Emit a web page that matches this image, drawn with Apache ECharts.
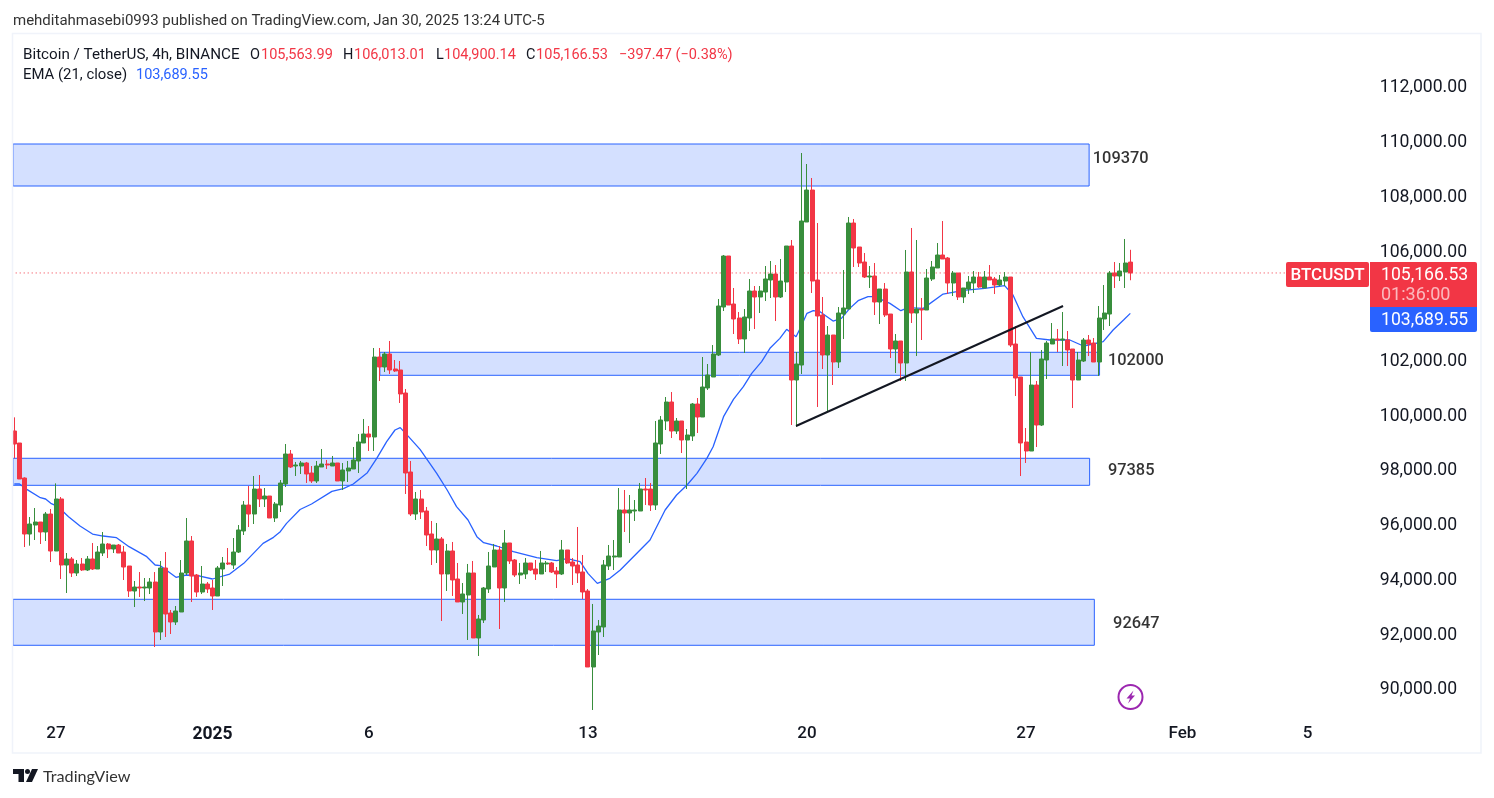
<!DOCTYPE html>
<html><head><meta charset="utf-8">
<style>html,body{margin:0;padding:0;background:#fff}#c{width:1494px;height:798px}</style>
<script src="https://cdn.jsdelivr.net/npm/echarts@6/dist/echarts.min.js"></script>
</head><body><div id="c"></div>
<script>
const tickIndex = [8,38,68,110,152,194,224,248];
const tickLabels = ['27','2025','6','13','20','27','Feb','5'];
const slotCount = 261;
const priceTicksHidden = [88000,114000];
const opens = [99390,98951,97672,95625,95954,96064,95699,96356,95004,96905,
94492,94712,94200,94529,94310,94712,94346,94931,95260,95077,
95223,94967,94456,93542,93688,93652,93652,93871,92044,94383,
92738,92409,92775,94200,95370,94127,93505,93798,93652,93359,
94346,94566,94492,94967,95735,96685,96356,97270,96905,97014,
96210,96685,97453,98550,98111,98111,98221,97855,97563,98075,
98184,98111,98221,97563,97929,98002,98294,98952,99281,99171,
102095,101730,102205,101657,101620,100779,97892,96357,96905,96466,
95626,95041,95443,94164,95005,93981,93141,93396,94201,91825,
92483,93616,94420,95041,93652,95297,94676,94128,94164,94566,
94347,94164,94530,94566,94274,94164,95041,94603,94493,94237,
93543,90765,92044,92227,94456,94785,94785,96503,96393,96466,
96466,97270,97270,96685,98915,99756,100450,99390,99756,99061,
99207,100377,99902,100962,101364,102168,103922,105786,104032,103520,
102753,103520,104507,104288,104470,104909,105128,104288,104836,106152,
101254,101802,107029,108198,104909,103630,102168,102899,101912,103666,
103849,106992,106115,105567,105019,105055,104105,104580,103666,102387,
102680,101875,105202,103703,103849,103813,104946,105348,105823,105713,
104799,105165,104288,104580,104799,105019,104617,105019,104946,104726,
104872,105019,102570,101364,98988,98659,101071,99609,101985,102570,
102753,102716,102716,102387,101254,101948,102716,102606,101912,103484,
103666,105165,105055,105201,105564];
const closes = [98915,97636,95625,95991,96064,95699,96356,95004,96905,94492,
94712,94200,94529,94310,94712,94346,94967,95260,95077,95223,
94931,94419,93542,93688,93652,93688,93871,92044,94383,92701,
92409,92811,94200,95370,94090,93505,93798,93615,93359,94383,
94566,94529,94967,95772,96685,96356,97270,96905,97014,96210,
96722,97489,98549,98075,98148,98221,97819,97563,98111,98184,
98148,98221,97563,97965,98038,98331,98989,99281,99171,102095,
101730,102205,101620,101584,100743,97855,96357,96905,96430,95589,
95041,95443,94164,95005,93945,93141,93433,94201,91825,92519,
93652,94456,95041,93652,95297,94639,94128,94201,94566,94310,
94164,94566,94566,94237,94164,95041,94566,94456,94201,93506,
90765,92081,92263,94493,94822,94822,96503,96393,96503,96503,
97270,97234,96685,98952,99792,100450,99390,99756,99061,99244,
100377,99902,100998,101437,102204,103959,105786,103995,103484,102753,
103557,104507,104288,104507,104946,105128,104288,104872,106152,101254,
101839,107065,108198,104872,103593,102168,102899,101912,103703,103886,
106992,106079,105530,105019,105055,104105,104580,103630,102387,102680,
101875,105202,103703,103849,103813,104982,105384,105823,105677,104799,
105165,104288,104617,104836,105019,104653,105019,104909,104726,104909,
105019,102533,101327,98952,98659,101071,99609,102022,102606,102753,
102716,102753,102351,101254,101985,102716,102570,101912,103520,103703,
105165,105055,105238,105530,105167];
const lows = [98391,97636,95150,95199,95406,95260,95370,94602,95004,93981,
93469,94054,94090,94273,94273,94310,94346,94821,94748,94931,
94931,93944,93323,92957,93323,93176,93432,91495,91751,91861,
91971,92299,92775,94127,93140,93323,93432,93469,92848,93359,
93725,94492,94346,94931,95589,95881,95991,96612,96612,96210,
96064,96430,97343,98038,97746,97819,97490,97490,97490,98075,
98002,98111,97563,97234,97526,98002,97855,98952,98660,98660,
101218,101547,101474,101547,100414,97088,96284,96138,96174,95187,
94493,94566,92446,93543,93360,93141,92702,91752,91825,91167,
92373,93470,94420,92154,93141,94530,94054,93799,93981,94273,
93945,94164,94237,94201,93652,94128,94530,93762,93835,93250,
90765,89193,91203,91861,94310,94310,94785,95699,95297,96101,
96466,96685,96466,96503,98550,99427,99134,99280,98586,97270,
99025,99317,99902,100889,101364,102131,103776,103995,102935,102570,
102241,103045,103118,103703,104141,104251,103410,104251,104470,99610,
99537,101474,107029,104434,100268,101656,100121,101072,101693,102753,
103849,105384,105384,104982,104617,103630,103301,103557,102058,101510,
101218,101218,103338,102131,102716,103813,104873,105348,105677,104397,
104324,104178,104068,104397,104434,104617,104617,104909,104397,104690,
104690,102460,100669,97745,98221,98659,98805,99573,101291,102570,
102278,101766,101766,100231,101254,101912,102131,101912,101400,103082,
103228,104617,104872,104617,104900];
const highs = [99889,98951,97697,96247,96576,96064,96430,96539,97477,96978,
94931,94785,94675,94748,94821,95296,95187,95699,95296,95223,
95260,95187,94456,93908,94236,94017,94017,94236,94639,94967,
92848,92994,94675,96210,95552,94163,94456,93871,93944,94456,
94785,95114,95479,95954,96831,97380,97745,97782,97307,97014,
96795,97599,98915,98696,98258,98294,98258,98111,98294,98733,
98331,98477,98221,98221,98294,98806,99281,99829,99573,102424,
102424,102278,102680,101985,101949,100926,98294,97161,97234,96613,
96101,96028,95516,95261,95334,94566,93835,94530,94639,92666,
93689,94968,95261,95187,95772,95297,94712,94566,94749,94566,
94676,95005,94639,94603,94420,95407,95041,94749,95882,94858,
93616,93068,92483,94676,95224,95406,97307,97234,97051,96868,
97490,97672,97490,99756,99938,100633,100815,99865,99756,99463,
100414,100596,102095,101839,102533,104215,105823,105786,104617,103739,
103849,104946,104690,104690,105421,105603,105457,105677,106152,106371,
102278,109551,109149,108637,106992,104288,103228,102899,103922,105275,
107212,107139,106115,105896,105421,105530,104580,104799,103666,102935,
102680,106006,106810,106371,104251,105311,105604,106261,107065,105750,
105238,105165,104617,105055,105238,105202,105238,105457,105019,105092,
105201,105019,103228,101364,99500,102278,101218,102351,102680,103337,
103118,103740,103045,102387,102278,102789,102899,102789,103959,104726,
105238,105567,105530,106408,106013];
const emaAt = [0,1,2.4,5,6,7,8.4,10.4,12.6,15,17,19.6,22,25.4,27,28,31,33,35.6,38,41.3,44,47.7,49.7,51,52.2,54.8,57,60.9,63.1,65,67.7,69.5,71.4,73,74,75.6,77.8,81,83,84.8,87,88.7,90,92.5,95.7,100.2,104,106,108.5,110,111.8,114.2,116.2,121.9,124.8,127,129,130.9,132.8,134,136,137.9,139.8,141.4,143.3,144.9,146.8,148.1,149.9,150.7,152,153.2,154.5,157,158.6,160.2,161.8,163.7,165,167.9,170,171.4,174.3,178.1,182,186.1,189.9,191.5,193.4,196,198.6,202.4,205,206.9,208.8,210.7,212.7,214];
const emaValues = [97453,97453,97258,96953,96905,96746,96624,96259,95918,95625,95552,95491,95162,94797,94492,94468,94042,94127,94090,93981,94163,94553,95284,95504,95711,96015,96520,96722,97185,97283,97453,97868,98391,99001,99427,99512,99183,98720,97843,97234,96625,96138,95529,95309,95187,94980,94761,94651,94724,94615,94188,93823,94006,94310,95406,96503,97051,97416,97843,98391,98817,99914,100547,101010,101498,101924,102412,102777,103106,102838,103143,103691,103788,103752,103410,103508,103873,104154,104300,104300,104056,103788,103898,103873,104397,104530,104604,104702,104361,103569,102777,102716,102716,102497,102570,102655,103082,103447,103689];
const zoneFrom = [-0.25,70.1,-0.25,-0.25];
const zoneTo = [206.1,208.1,206.2,207.1];
const zoneHigh = [109880,102267,98393,93239];
const zoneLow = [108345,101426,97405,91558];
const noteText = ['109370','102000','97385','92647'];
const noteAt = [206.8,209.7,209.7,210.7];
const notePrice = [109332,101949,97927,92336];
const trendAt = [149.9,201.1];
const trendPrice = [99573,103959];
const lastPrice = 105166.53;
const lastPriceSpan = [-0.5,260.5];

const UP='#388e3c', DOWN='#f23645', BLUE='#2962ff', INK='#131722';
const FONT='Roboto, sans-serif';
const categories = Array.from({length:slotCount},(_,i)=>{const k=tickIndex.indexOf(i);return k>=0?tickLabels[k]:'';});
const candles = opens.map((o,i)=>[o,closes[i],lows[i],highs[i]]);
const left=11.7, bandW=5.215, gridW=bandW*slotCount;
const pxPerK=27.36, gridTop=86-2*pxPerK, gridH=26*pxPerK;

const txt=(text,x,y,font,fill,align)=>({type:'text',z:100,silent:true,style:{text,x,y,font,fill,textAlign:align||'left',textVerticalAlign:'middle'}});
const F14=`14.5px ${FONT}`, F15=`15.2px ${FONT}`, F17=`17.6px ${FONT}`;
const chart=echarts.init(document.getElementById('c'),null,{renderer:'canvas'});
chart.setOption({
 animation:false,backgroundColor:'#fff',
 grid:{left,top:gridTop,width:gridW,height:gridH,containLabel:false},
 xAxis:[
  {type:'category',data:categories,boundaryGap:true,offset:-23,axisLine:{show:false},axisTick:{show:false},splitLine:{show:false},
   axisLabel:{interval:(i)=>tickIndex.includes(i),hideOverlap:false,color:INK,fontFamily:FONT,fontSize:17,fontWeight:500,margin:6,
     formatter:v=>v==='2025'?'{b|2025}':v,rich:{b:{fontFamily:FONT,fontSize:17.5,fontWeight:700,color:INK}}}},
  {type:'value',show:false,min:-0.5,max:slotCount-0.5}
 ],
 yAxis:{type:'value',position:'right',min:88000,max:114000,interval:2000,axisLine:{show:false},axisTick:{show:false},splitLine:{show:false},
   axisLabel:{margin:7,verticalAlign:'top',lineHeight:4,color:INK,fontFamily:FONT,fontSize:17.6,formatter:v=>priceTicksHidden.includes(v)?'':v.toLocaleString('en-US',{minimumFractionDigits:2})}},
 series:[
  {type:'line',name:'zones',xAxisIndex:1,data:[],z:1,
   markArea:{silent:true,z:1,itemStyle:{color:'rgba(41,98,255,0.2)',borderColor:BLUE,borderWidth:1},
     data:zoneFrom.map((f,i)=>[{xAxis:f,yAxis:zoneHigh[i]},{xAxis:zoneTo[i],yAxis:zoneLow[i]}])}},
  {type:'line',name:'last',xAxisIndex:1,z:2,symbol:'none',silent:true,lineStyle:{color:DOWN,type:[1,3],width:1},
   data:lastPriceSpan.map(x=>[x,lastPrice])},
  {type:'line',name:'EMA',xAxisIndex:1,z:3,symbol:'none',lineStyle:{color:BLUE,width:1.3},data:emaAt.map((x,i)=>[x,emaValues[i]])},
  {type:'candlestick',name:'BTCUSDT',xAxisIndex:0,z:5,barWidth:4.5,data:candles,
   itemStyle:{color:UP,color0:DOWN,borderColor:UP,borderColor0:DOWN,borderWidth:1}},
  {type:'line',name:'trend',xAxisIndex:1,z:6,symbol:'none',lineStyle:{color:INK,width:2},data:trendAt.map((x,i)=>[x,trendPrice[i]])},
  {type:'scatter',name:'notes',xAxisIndex:1,z:7,symbolSize:0,silent:true,
   data:noteAt.map((x,i)=>({value:[x,notePrice[i]],name:noteText[i]})),
   label:{show:true,position:'right',distance:0,formatter:p=>p.name,color:'#000',fontFamily:FONT,fontSize:16.4,fontWeight:500}}
 ],
 graphic:[
  {type:'rect',z:90,silent:true,shape:{x:0,y:30,width:12,height:725},style:{fill:'#fff'}},
  {type:'rect',z:91,silent:true,shape:{x:12.5,y:33.5,width:1468.5,height:719.5},style:{fill:'none',stroke:'#f0f3fa',lineWidth:1.5}},
  txt('mehditahmasebi0993 published on TradingView.com, Jan 30, 2025 13:24 UTC-5',13,21,`15px ${FONT}`,'#333'),
  txt('Bitcoin / TetherUS, 4h, BINANCE',23,55,F15,INK),
  txt('O',250,55,F14,INK),txt('105,563.99',261,55,F14,DOWN),
  txt('H',343,55,F14,INK),txt('106,013.01',354,55,F14,DOWN),
  txt('L',436,55,F14,INK),txt('104,900.14',444,55,F14,DOWN),
  txt('C',526,55,F14,INK),txt('105,166.53',536,55,F14,DOWN),
  txt('\u2212397.47 (\u22120.38%)',619,55,F14,DOWN),
  txt('EMA (21, close)',23,75,`14.9px ${FONT}`,INK),txt('103,689.55',136,75,F14,BLUE),
  {type:'rect',z:95,silent:true,shape:{x:1286,y:262,width:83,height:25,r:2},style:{fill:DOWN}},
  {type:'rect',z:95,silent:true,shape:{x:1370,y:262,width:107,height:45,r:[0,2,0,0]},style:{fill:DOWN}},
  {type:'rect',z:95,silent:true,shape:{x:1370,y:307,width:107,height:25,r:[0,0,2,2]},style:{fill:BLUE}},
  txt('BTCUSDT',1327.5,276,`500 17px ${FONT}`,'#fff','center'),
  txt('105,166.53',1381,275.5,F17,'#fff'),
  txt('01:36:00',1381,295,`18px ${FONT}`,'rgba(255,255,255,0.65)'),
  txt('103,689.55',1381,320.5,F17,'#fff'),
  {type:'circle',z:95,silent:true,shape:{cx:1130.5,cy:697,r:12},style:{fill:'#fff',stroke:'#9c27b0',lineWidth:2}},
  {type:'polygon',z:96,silent:true,shape:{points:[[1133.5,690.5],[1126.5,698.5],[1130,698.5],[1128,703.5],[1135,695.5],[1131.5,695.5]]},style:{fill:'#9c27b0'}},
  {type:'polygon',z:96,silent:true,shape:{points:[[13,769],[24,769],[24,782],[18.5,782],[18.5,774],[13,774]]},style:{fill:INK}},
  {type:'circle',z:96,silent:true,shape:{cx:27.5,cy:771.5,r:2.5},style:{fill:INK}},
  {type:'polygon',z:96,silent:true,shape:{points:[[32,769],[38,769],[32,782],[26,782]]},style:{fill:INK}},
  txt('TradingView',43,777,`16.2px Lato, ${FONT}`,'#333')
 ]
});
</script></body></html>
